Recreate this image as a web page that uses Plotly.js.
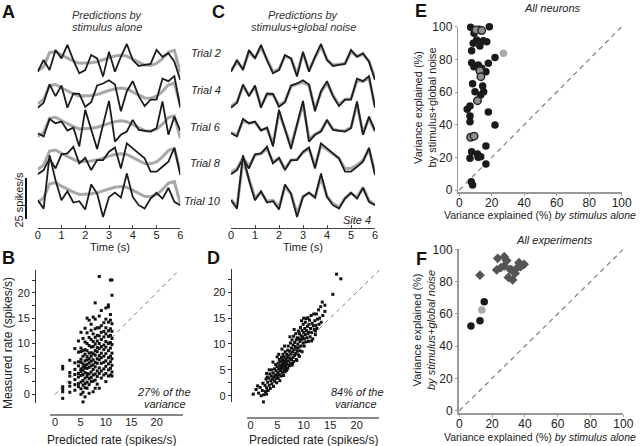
<!DOCTYPE html>
<html><head><meta charset="utf-8">
<script src="https://cdn.plot.ly/plotly-3.0.1.min.js"></script>
<style>html,body{margin:0;padding:0;background:#fff}#plot{width:640px;height:446px}</style>
</head><body><div id="plot"></div>
<script>
// ---------- DATA ----------
const times = [0,0.25,0.5,0.75,1,1.25,1.5,1.75,2,2.25,2.5,2.75,3,3.25,3.5,3.75,4,4.25,4.5,4.75,5,5.25,5.5,5.75,6];
const trialNames = ["Trial 2","Trial 4","Trial 6","Trial 8","Trial 10"];
// stimulus-alone prediction (same for every trial), spikes/s
const predStim = [5.4,8.0,16.6,17.2,15.2,13.1,11.5,10.1,10.1,10.5,11.1,12.5,13.5,14.5,15.0,14.5,12.5,10.5,9.0,8.8,10.0,13.0,17.0,18.0,4.5];
// measured rates, spikes/s
const meas2  = [5.0,12.1,6.0,18.2,13.1,21.3,12.1,4.0,6.0,15.2,13.1,2.0,17.2,5.0,14.1,21.9,12.1,8.5,9.1,9.7,18.2,14.1,16.2,11.1,-0.1];
const meas4  = [3.0,6.0,17.2,10.1,16.6,3.0,11.7,11.5,3.6,6.4,16.6,17.8,19.8,17.2,0.9,13.1,19.2,10.1,4.0,8.0,8.0,20.7,19.2,22.3,3.0];
const meas6  = [7.5,5.5,16.2,13.6,14.6,9.1,10.9,-0.6,21.7,10.5,-2.1,12.6,27.2,2.4,6.5,8.5,15.6,9.5,8.9,8.5,10.5,26.8,6.5,17.6,9.1];
const meas8  = [2.4,5.0,12.1,6.0,14.6,15.2,19.2,9.1,12.5,5.0,11.1,11.1,16.2,18.8,6.0,21.3,18.2,15.2,12.1,4.0,4.0,7.0,10.1,18.6,2.0];
const meas10 = [6.6,1.5,34.0,18.8,6.6,12.1,5.2,6.0,0.9,16.2,10.7,-3.6,8.6,11.3,8.2,22.9,8.6,3.6,1.5,7.6,11.1,7.6,14.1,5.6,3.6];
// stimulus + global noise predictions
const predNoise2  = [5.5,11.0,7.0,16.8,13.5,19.8,12.5,5.0,6.5,14.5,13.0,3.5,16.0,6.0,13.5,20.5,12.5,9.0,9.5,10.0,17.0,14.5,15.5,11.5,1.0];
const predNoise4  = [4.0,6.5,16.0,10.8,15.5,4.2,11.0,11.0,4.5,7.0,15.8,17.5,18.5,16.5,2.5,12.5,18.0,10.5,5.0,8.0,8.5,19.5,19.0,21.0,4.0];
const predNoise6  = [8.0,6.5,15.0,13.5,14.0,9.5,10.5,1.0,20.0,10.5,0.0,12.5,25.5,4.0,6.8,9.0,15.0,10.0,9.0,9.0,11.0,25.0,7.5,16.5,8.5];
const predNoise8  = [3.5,6.0,12.5,7.5,14.0,15.0,18.0,10.0,12.0,6.0,11.0,11.5,15.5,18.0,7.5,20.0,17.5,15.0,12.0,6.0,6.0,8.0,11.0,17.5,3.5];
const predNoise10 = [7.0,3.0,31.0,20.0,8.0,11.5,6.0,6.5,2.5,15.0,10.5,-1.5,9.0,11.0,8.5,20.5,9.0,4.5,2.5,8.0,11.0,8.5,14.5,6.5,4.0];
const scaleBarValue = 25;

// Panel B: predicted rate columns and measured rates in each column
const bPred = [1.5,2.9,3.9,4.6,5.1,5.5,5.9,6.3,6.7,7.1,7.5,7.9,8.3,8.7,9.1,9.6,10.0,10.5,10.9,11.2];
const bMeas = [
 [5.5,5.0,1.5,1.0,0.5,-0.8,-2.0],
 [6.7,4.3,3.6,2.3,1.6,0.4],
 [9.0,6.2,4.9,3.9,2.9,1.9,0.8],
 [10.5,8.3,6.4,5.6,4.1,3.4,2.1,1.5,-2.0],
 [12.2,9.1,8.4,6.9,6.3,5.0,4.5,3.7,2.4,1.1,0.0],
 [11.0,8.6,7.5,6.0,5.4,4.8,3.9,2.7,1.8,0.4,-1.5],
 [13.0,10.3,8.8,7.9,6.6,5.7,5.2,4.3,3.2,2.1,1.3,-0.5],
 [15.0,12.1,10.0,8.6,7.4,6.8,5.9,5.1,4.1,3.5,2.4,1.2,-2.6],
 [14.6,11.2,9.6,8.1,7.0,6.2,5.3,4.0,3.1,1.9,0.2],
 [13.8,12.6,10.8,9.3,8.2,7.5,6.5,5.6,4.4,3.3,2.5,-1.8],
 [15.2,11.9,10.4,9.4,8.0,6.8,5.8,4.9,3.8,2.6,0.5],
 [18.0,14.8,12.9,11.2,9.9,8.6,7.7,6.3,5.4,4.0,2.8,1.2],
 [13.1,11.6,10.5,9.2,8.4,7.0,6.1,4.6,3.5,2.0],
 [23.2,15.4,13.1,11.5,10.0,9.0,7.6,6.8,5.2,4.1,1.2],
 [16.5,13.5,12.2,10.8,9.4,8.1,7.2,6.1,4.6,3.2],
 [14.1,12.4,11.3,9.7,8.8,7.5,6.3,5.0,3.8],
 [17.0,14.8,13.1,11.9,10.4,9.3,8.0,6.6,5.5,4.1,2.5],
 [17.6,17.2,14.2,12.5,11.4,10.0,8.6,7.2,6.0,4.8,3.6],
 [22.5,15.7,14.6,12.9,11.6,10.2,9.1,7.5,6.4,5.1,3.8],
 [22.5,19.5,13.9,12.4,11.0,9.8,8.1,7.0,5.7,4.4,3.6]
];
// Panel D: predicted (stimulus+global noise) vs measured
const dPred = [-0.3,1.2,1.5,2.4,2.5,0.5,1.0,1.5,1.8,2.0,2.2,2.5,2.7,2.8,3.0,3.0,1.3,2.3,
 3.2,3.3,3.4,3.5,3.6,3.7,3.8,3.9,4.0,4.0,4.1,4.2,4.3,4.4,4.5,4.5,4.6,4.7,4.8,4.8,4.9,5.0,5.0,3.5,3.1,4.2,2.9,3.0,
 5.1,5.2,5.2,5.3,5.4,5.4,5.5,5.5,5.6,5.6,5.7,5.8,5.8,5.9,6.0,6.0,6.1,6.1,6.2,6.2,6.3,6.3,6.4,6.5,6.5,6.6,6.6,6.7,6.8,6.8,6.9,6.9,7.0,7.0,5.3,5.9,6.4,5.0,5.7,6.0,6.7,6.3,
 7.1,7.1,7.2,7.3,7.3,7.4,7.5,7.5,7.6,7.7,7.7,7.8,7.8,7.9,8.0,8.0,8.1,8.1,8.2,8.3,8.3,8.4,8.5,8.5,8.6,8.6,8.7,8.8,8.8,8.9,9.0,9.0,7.4,8.2,7.9,8.7,
 9.1,9.1,9.2,9.3,9.3,9.4,9.5,9.5,9.6,9.7,9.7,9.8,9.9,9.9,10.0,10.1,10.1,10.2,10.3,10.3,10.4,10.5,10.5,10.6,10.7,10.8,10.8,10.9,11.0,11.0,9.6,10.0,9.2,
 11.1,11.2,11.3,11.4,11.5,11.6,11.7,11.8,11.9,12.0,12.1,12.2,12.3,12.4,12.5,12.6,12.8,12.9,13.0,13.2,13.3,13.5,13.6,14.0,14.0,12.2,11.5,
 15.5,16.2,17.0];
const dMeas = [-1.8,-2.1,-3.1,-1.2,-1.9,0.3,1.2,0.5,1.6,0.0,1.0,0.2,2.0,0.8,1.5,0.3,1.9,2.4,
 2.6,1.0,3.4,2.0,4.2,1.4,2.9,3.8,2.3,5.0,3.2,4.4,1.8,3.6,5.2,2.8,4.0,6.0,3.3,4.8,2.5,5.6,3.9,5.0,3.6,6.5,3.2,4.3,
 4.5,6.3,3.4,5.2,7.0,4.1,5.8,2.9,6.6,4.8,3.8,5.4,7.4,6.1,4.5,6.9,5.5,8.0,3.9,6.4,5.0,7.5,6.0,4.6,8.5,7.0,5.5,6.4,8.0,4.9,7.4,6.0,5.3,8.8,8.0,9.0,9.6,7.5,5.0,5.9,5.2,6.6,
 6.7,9.6,7.8,5.8,8.6,7.2,10.2,6.3,8.1,9.2,7.0,5.9,10.8,8.5,7.4,9.8,6.6,11.5,8.9,10.3,7.8,9.5,12.0,8.2,10.8,7.0,9.2,11.2,8.6,10.0,12.5,7.9,11.4,12.8,6.2,6.8,
 9.4,11.0,12.0,8.7,10.5,13.2,11.6,9.6,10.9,12.6,8.5,11.4,13.8,10.2,12.2,9.6,11.0,13.0,14.2,11.8,10.4,12.6,14.9,11.2,13.4,12.0,15.1,10.5,13.8,12.3,14.5,15.0,7.6,
 14.6,11.4,13.0,15.5,12.2,14.0,11.0,13.5,15.8,12.8,14.5,11.8,13.6,15.8,13.0,14.8,16.6,13.8,15.0,17.2,14.2,18.1,15.5,17.5,16.3,12.5,10.6,
 19.6,23.5,22.6];
const diagB = [0,25];
const diagD = [0,24.5];
// Panel E: all neurons (variance explained %, stimulus alone vs stimulus+global noise)
const eStim = [7.0,12.3,18.5,9.1,10.7,8.6,14.8,16.9,12.7,7.6,22.0,17.9,7.6,11.7,9.0,13.8,16.4,8.2,14.4,9.7,15.0,13.2,6.6,4.9,17.9,6.6,6.6,22.0,16.4,7.6,11.2,13.2,6.6,16.4,7.4,8.2,11.6];
const eNoise = [99.6,98.4,100,96,91.8,89.8,91.4,90.8,88.2,85.3,81.2,77.6,78,76.5,75.5,74.5,72.4,65,63.7,60.2,60.2,58.2,51.4,49.4,47.8,45.3,41.8,39.8,27,23.5,22,20.4,19.4,15.9,5.1,3.1,20];
const eStimMixed = [10.3,13.8,12.7,13.3,11.2,7.0,9.1];
const eNoiseMixed = [98,97.6,73,69.4,54.7,32.3,33];
const eStimGray = [27.2];
const eNoiseGray = [83.7];
// Panel F: all experiments
const fStimCirc = [7.1,12.6,15.2];
const fNoiseCirc = [52.5,55.8,67.5];
const fStimGray = [13.7];
const fNoiseGray = [62.4];
const fStimDiam = [12.6,23.4,27.4,28.9,22.8,25.3,27.4,30.9,29.9,32.5,31.9,34.0,35.0,36.4,37.4,39.5];
const fNoiseDiam = [84,94.4,95.4,93,87.2,88.6,89.7,87.6,82.6,81,87.2,85.1,88.2,91.7,89.2,90.7];
const diagEF = [0,100];

// ---------- HELPERS ----------
const W = 640, H = 446;
const X = px => px / W;
const Y = py => 1 - py / H;
const FONT = "Liberation Sans, Arial, Helvetica, sans-serif";
const DARK = "#1c1c1c";

// panel A/C vertical mapping
const REF_PX = 71.67, PXU = 1.64, REF_V = 5, TOP_PX = 35, BOT_PX = 226, SPACING = 20;
const vAt = py => REF_V + (REF_PX - py) / PXU;
const yRangeA = [vAt(BOT_PX), vAt(TOP_PX)];

const measured = [meas2, meas4, meas6, meas8, meas10];
const noisePred = [predNoise2, predNoise4, predNoise6, predNoise8, predNoise10];

const traces = [];
measured.forEach((m, i) => {
  const off = v => v - SPACING * i;
  traces.push({x: times, y: predStim.map(off), xaxis: 'x', yaxis: 'y', mode: 'lines',
    line: {color: '#a8a8a8', width: 3}, hoverinfo: 'skip'});
  traces.push({x: times, y: m.map(off), xaxis: 'x', yaxis: 'y', mode: 'lines',
    line: {color: DARK, width: 1.8}, hoverinfo: 'skip'});
  traces.push({x: times, y: noisePred[i].map(off), xaxis: 'x2', yaxis: 'y', mode: 'lines',
    line: {color: '#a8a8a8', width: 3}, hoverinfo: 'skip'});
  traces.push({x: times, y: m.map(off), xaxis: 'x2', yaxis: 'y', mode: 'lines',
    line: {color: DARK, width: 1.8}, hoverinfo: 'skip'});
});

// Panel B
const bx = [], by = [];
bPred.forEach((p, k) => bMeas[k].forEach(v => { bx.push(p); by.push(v); }));
traces.push({x: diagB, y: diagB, xaxis: 'x3', yaxis: 'y3', mode: 'lines',
  line: {color: '#777', width: 1, dash: '4px,4px'}, cliponaxis: false});
traces.push({x: bx, y: by, xaxis: 'x3', yaxis: 'y3', mode: 'markers',
  marker: {symbol: 'square', size: 3, color: '#111'}, cliponaxis: false});
// Panel D
traces.push({x: diagD, y: diagD, xaxis: 'x4', yaxis: 'y4', mode: 'lines',
  line: {color: '#777', width: 1, dash: '4px,4px'}, cliponaxis: false});
traces.push({x: dPred, y: dMeas, xaxis: 'x4', yaxis: 'y4', mode: 'markers',
  marker: {symbol: 'square', size: 3, color: '#111'}, cliponaxis: false});
// Panel E
traces.push({x: diagEF, y: diagEF, xaxis: 'x5', yaxis: 'y5', mode: 'lines',
  line: {color: '#888', width: 1.3, dash: '5px,4px'}});
traces.push({x: eStim, y: eNoise, xaxis: 'x5', yaxis: 'y5', mode: 'markers',
  marker: {size: 7.5, color: '#1a1a1a'}, cliponaxis: false});
traces.push({x: eStimMixed, y: eNoiseMixed, xaxis: 'x5', yaxis: 'y5', mode: 'markers',
  marker: {size: 7.5, color: '#909090', line: {color: '#2a2a2a', width: 1.5}}, cliponaxis: false});
traces.push({x: eStimGray, y: eNoiseGray, xaxis: 'x5', yaxis: 'y5', mode: 'markers',
  marker: {size: 7.5, color: '#aaaaaa'}, cliponaxis: false});
// Panel F
traces.push({x: diagEF, y: diagEF, xaxis: 'x6', yaxis: 'y6', mode: 'lines',
  line: {color: '#888', width: 1.3, dash: '5px,4px'}});
traces.push({x: fStimDiam, y: fNoiseDiam, xaxis: 'x6', yaxis: 'y6', mode: 'markers',
  marker: {symbol: 'diamond', size: 7.5, color: '#555'}, cliponaxis: false});
traces.push({x: fStimCirc, y: fNoiseCirc, xaxis: 'x6', yaxis: 'y6', mode: 'markers',
  marker: {size: 7.5, color: '#1a1a1a'}, cliponaxis: false});
traces.push({x: fStimGray, y: fNoiseGray, xaxis: 'x6', yaxis: 'y6', mode: 'markers',
  marker: {size: 7.5, color: '#aaaaaa'}, cliponaxis: false});

// ---------- AXES ----------
const tf = (s) => ({family: FONT, size: s, color: '#222'});
const base = {showgrid: false, zeroline: false, fixedrange: true};
const timeAxis = (d) => Object.assign({}, base, {domain: d, range: [0, 6], anchor: 'free', position: Y(228),
    showline: true, linecolor: '#444', linewidth: 1, ticks: 'inside', ticklen: 3, tickcolor: '#444',
    ticklabelstandoff: -3, tickvals: [0,1,2,3,4,5,6], tickfont: tf(11)});
const pctAxis = (d, r, anc, isX) => Object.assign({}, base, {domain: d, range: r, anchor: anc,
    showline: true, linecolor: '#999', linewidth: 1.5, ticks: 'outside', ticklen: 2, tickcolor: '#999',
    ticklabelstandoff: isX ? -3 : 0, tickvals: [0,20,40,60,80,100], tickfont: tf(12)});
const rateX = (d, r, pos) => Object.assign({}, base, {domain: d, range: r, anchor: 'free', position: pos,
    showline: true, linecolor: '#888', linewidth: 1.5, ticks: '', ticklabelstandoff: -3,
    tickvals: [0,5,10,15,20], tickfont: tf(11)});
const rateY = (d, r, pos) => Object.assign({}, base, {domain: d, range: r, anchor: 'free', position: pos,
    showline: true, linecolor: '#333', linewidth: 1, ticks: 'outside', ticklen: 3, tickcolor: '#333',
    tickvals: [0,5,10,15,20], tickfont: tf(11),
    minor: {tickvals: [2.5,7.5,12.5,17.5,22.5], ticks: 'outside', ticklen: 3, tickcolor: '#333'}});
const layout = {
  width: W, height: H, margin: {l: 0, r: 0, t: 0, b: 0},
  paper_bgcolor: '#fff', plot_bgcolor: 'rgba(0,0,0,0)', showlegend: false,
  font: {family: FONT, color: '#222'},
  xaxis: timeAxis([X(37.7), X(180.3)]),
  xaxis2: timeAxis([X(231), X(375)]),
  yaxis: Object.assign({}, base, {domain: [Y(BOT_PX), Y(TOP_PX)], range: yRangeA, visible: false, anchor: 'x'}),
  xaxis3: rateX([X(50), X(183.3)], [-1, 25.25], Y(414)),
  yaxis3: rateY([Y(403), Y(270)], [-1.71, 24.47], X(35)),
  xaxis4: rateX([X(246.7), X(379.3)], [-0.75, 24.26], Y(417.3)),
  yaxis4: rateY([Y(402), Y(269)], [-1.22, 24.5], X(230.7)),
  xaxis5: pctAxis([X(458.3), X(621.7)], [-0.6, 100], 'y5', true),
  yaxis5: pctAxis([Y(192), Y(26.7)], [-1.2, 100], 'x5', false),
  xaxis6: pctAxis([X(458.5), X(623.3)], [-0.5, 100], 'y6', true),
  yaxis6: pctAxis([Y(413.3), Y(249.3)], [-1.6, 100], 'x6', false),
  shapes: [{type: 'line', xref: 'paper', yref: 'y', x0: X(26), x1: X(26),
    y0: vAt(219), y1: vAt(219) + scaleBarValue, line: {color: '#111', width: 2}}],
  annotations: []
};

// ---------- TEXT ----------
const ann = (text, px, py, size, opts) => Object.assign({
  text: text, xref: 'paper', yref: 'paper', x: X(px), y: Y(py), showarrow: false,
  xanchor: 'center', yanchor: 'middle', font: {family: FONT, size: size, color: '#222'}
}, opts || {});
const A = layout.annotations;
[["A",8,12],["C",218,12],["B",8,258],["D",213,258],["E",421,11],["F",421,259]].forEach(l =>
  A.push(ann('<b>' + l[0] + '</b>', l[1], l[2], 18, {font: {family: FONT, size: 18, color: '#111'}})));
A.push(ann('<i>Predictions by</i>', 107, 15, 11, {font: {family: FONT, size: 11, color: '#333'}}));
A.push(ann('<i>stimulus alone</i>', 107, 27, 11, {font: {family: FONT, size: 11, color: '#333'}}));
A.push(ann('<i>Predictions by</i>', 303, 15, 11, {font: {family: FONT, size: 11, color: '#333'}}));
A.push(ann('<i>stimulus+global noise</i>', 303, 27, 11, {font: {family: FONT, size: 11, color: '#333'}}));
const trialLabelY = [53.3, 90, 126.7, 163.3, 201];
trialNames.forEach((t, i) => A.push(ann('<i>' + t + '</i>', 223, trialLabelY[i], 11, {xanchor: 'right'})));
A.push(ann('<i>Site 4</i>', 373, 220, 11, {xanchor: 'right'}));
A.push(ann(scaleBarValue + ' spikes/s', 18.5, 200, 11, {textangle: -90}));
A.push(ann('Time (s)', 110, 247, 11));
A.push(ann('Time (s)', 303, 247, 11));
A.push(ann('Measured rate (spikes/s)', 8, 343, 12, {textangle: -90}));
A.push(ann('Predicted rate (spikes/s)', 111, 439.5, 12));
A.push(ann('Predicted rate (spikes/s)', 313, 439.5, 12));
A.push(ann('<i>27% of the</i>', 164, 392, 11));
A.push(ann('<i>variance</i>', 165, 404, 11));
A.push(ann('<i>84% of the</i>', 357, 392, 11));
A.push(ann('<i>variance</i>', 356, 404, 11));
A.push(ann('<i>All neurons</i>', 552, 8, 11));
A.push(ann('<i>All experiments</i>', 554, 240, 11));
A.push(ann('Variance explained (%) <i>by stimulus alone</i>', 540, 215, 10.5));
A.push(ann('Variance explained (%) <i>by stimulus alone</i>', 540, 437, 10.5));
A.push(ann('Variance explained (%)<br>by stimulus+global noise', 424.5, 108, 11, {textangle: -90}));
A.push(ann('Variance explained (%)<br><i>by stimulus+global noise</i>', 424, 330, 11, {textangle: -90}));

Plotly.newPlot('plot', traces, layout, {staticPlot: true, displayModeBar: false});
</script>
</body></html>
